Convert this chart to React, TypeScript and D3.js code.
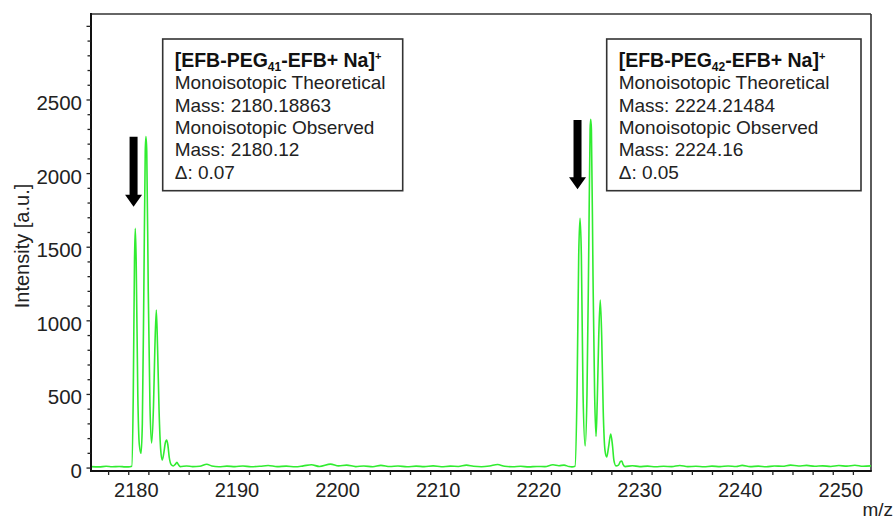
import React from "react";
import * as d3 from "d3";

// ---- data ----
const xDomain: [number, number] = [2175.5, 2253];
const yDomain: [number, number] = [-20, 3084];
const xTickLabels = [2180, 2190, 2200, 2210, 2220, 2230, 2240, 2250];
const xMinorTicks = d3.range(2177.25, 2253, 2);
const yTickLabels = [0, 500, 1000, 1500, 2000, 2500];
const yMinorTicks = d3.range(0, 3001, 100);

const baselineLeft: [number, number][] = [
  [2175.5, 10], [2176.3, 8], [2177.0, 12], [2177.6, 9], [2178.3, 11], [2178.9, 8],
];
const cluster41: [number, number][] = [
  [2179.21, 8], [2179.55, 12], [2179.70, 500], [2179.82, 1400], [2179.90, 1628],
  [2179.99, 1400], [2180.15, 500], [2180.30, 160], [2180.47, 100], [2180.60, 300],
  [2180.75, 1200], [2180.89, 2150], [2180.96, 2251], [2181.04, 2150], [2181.19, 1200],
  [2181.36, 420], [2181.52, 170], [2181.71, 420], [2181.84, 800], [2181.99, 1073],
  [2182.12, 800], [2182.26, 400], [2182.43, 120], [2182.58, 55], [2182.73, 100],
  [2182.88, 170], [2183.01, 190], [2183.13, 160], [2183.28, 70], [2183.48, 22],
  [2183.67, 14], [2183.87, 25], [2184.04, 39], [2184.17, 25], [2184.37, 10],
];
const baselineMid: [number, number][] = [
  [2185.0, 14], [2185.6, 10], [2186.3, 12], [2187.0, 26], [2187.5, 14], [2188.2, 9],
  [2189.0, 13], [2189.8, 10], [2190.6, 14], [2191.4, 9], [2192.3, 12], [2193.1, 17],
  [2194.0, 10], [2194.9, 13], [2195.8, 9], [2196.6, 15], [2197.4, 22], [2198.2, 11],
  [2199.3, 27], [2200.1, 15], [2200.9, 20], [2201.8, 10], [2202.6, 14], [2203.5, 9],
  [2204.3, 18], [2205.2, 11], [2206.0, 14], [2206.9, 9], [2207.8, 13], [2208.6, 10],
  [2209.5, 15], [2210.3, 9], [2211.2, 13], [2212.0, 11], [2212.8, 20], [2213.5, 12],
  [2214.3, 9], [2215.1, 14], [2215.9, 24], [2216.6, 12], [2217.4, 9], [2218.2, 12],
  [2219.0, 8], [2219.8, 11], [2220.6, 10], [2221.4, 22], [2222.0, 16], [2222.5, 20],
  [2223.0, 10],
];
const cluster42: [number, number][] = [
  [2223.29, 8], [2223.59, 12], [2223.79, 500], [2223.96, 1450], [2224.09, 1696],
  [2224.22, 1450], [2224.39, 500], [2224.60, 150], [2224.78, 500], [2224.96, 1500],
  [2225.09, 2300], [2225.15, 2369], [2225.22, 2300], [2225.38, 1300], [2225.54, 500],
  [2225.68, 215], [2225.80, 450], [2225.95, 900], [2226.10, 1141], [2226.24, 900],
  [2226.39, 400], [2226.57, 120], [2226.74, 75], [2226.92, 140], [2227.14, 231],
  [2227.32, 150], [2227.46, 50], [2227.66, 15], [2227.91, 20], [2228.11, 45],
  [2228.23, 48], [2228.36, 25], [2228.56, 10],
];
const baselineRight: [number, number][] = [
  [2229.3, 16], [2230.0, 10], [2230.8, 13], [2231.6, 9], [2232.4, 12], [2233.2, 10],
  [2234.0, 17], [2234.8, 10], [2235.6, 12], [2236.4, 9], [2237.2, 13], [2238.0, 10],
  [2238.8, 14], [2239.6, 11], [2240.2, 18], [2241.0, 10], [2241.8, 13], [2242.6, 9],
  [2243.4, 14], [2244.2, 12], [2245.0, 20], [2245.8, 14], [2246.6, 18], [2247.4, 12],
  [2248.2, 15], [2249.0, 11], [2249.8, 17], [2250.6, 13], [2251.4, 19], [2252.2, 12],
  [2253.0, 15],
];

const arrows = [
  { x: 2179.73, top: 2250, tip: 1775 },
  { x: 2223.84, top: 2364, tip: 1893 },
];

const boxes = [
  { sub: "41", lines: ["Monoisotopic Theoretical", "Mass: 2180.18863", "Monoisotopic Observed", "Mass: 2180.12", "Δ: 0.07"] },
  { sub: "42", lines: ["Monoisotopic Theoretical", "Mass: 2224.21484", "Monoisotopic Observed", "Mass: 2224.16", "Δ: 0.05"] },
];

// ---- layout ----
const W = 895, H = 519;
const L = 91, R = 871, T = 14, B = 471;
const boxLayout = [
  { x: 162.7, y: 39, w: 240, h: 151.7 },
  { x: 606.7, y: 39, w: 254.3, h: 151.7 },
];
const FONT = "'Liberation Sans', Arial, Helvetica, sans-serif";

export default function App() {
  const x = d3.scaleLinear().domain(xDomain).range([L, R]);
  const y = d3.scaleLinear().domain(yDomain).range([B, T]);
  const spectrum = [...baselineLeft, ...cluster41, ...baselineMid, ...cluster42, ...baselineRight];
  const line = d3
    .line<[number, number]>()
    .x((d) => x(d[0]))
    .y((d) => y(d[1]))
    .curve(d3.curveMonotoneX);

  return (
    <svg width={W} height={H} style={{ position: "absolute", left: 0, top: 0, background: "#fff" }} fontFamily={FONT}>
      <rect x={0} y={0} width={W} height={H} fill="#fff" />
      <defs>
        <clipPath id="plotclip">
          <rect x={L} y={T} width={R - L} height={B - T} />
        </clipPath>
      </defs>
      {/* frame top/right */}
      <line x1={L} x2={R} y1={T} y2={T} stroke="#333" strokeWidth={1.6} />
      <line x1={R} x2={R} y1={T} y2={B} stroke="#333" strokeWidth={1.6} />

      {/* spectrum */}
      <path d={line(spectrum) || ""} fill="none" stroke="#30ec30" strokeWidth={1.6} clipPath="url(#plotclip)" />

      {/* axes */}
      <line x1={L} x2={L} y1={T - 1} y2={B + 1} stroke="#111" strokeWidth={2} />
      <line x1={L - 1} x2={R + 0.8} y1={B} y2={B} stroke="#111" strokeWidth={2.2} />

      {yMinorTicks.map((v) => (
        <line key={"ym" + v} x1={L - (v % 500 === 0 ? 4.5 : 3.5)} x2={L} y1={y(v)} y2={y(v)} stroke="#222" strokeWidth={1.3} />
      ))}
      {yTickLabels.map((v) => (
        <text key={"yl" + v} x={82} y={y(v) + 10} textAnchor="end" fontSize={20.5} fill="#222">
          {v}
        </text>
      ))}
      {xMinorTicks.map((v) => (
        <line key={"xm" + v} x1={x(v)} x2={x(v)} y1={B} y2={B + 4} stroke="#222" strokeWidth={1.3} />
      ))}
      {xTickLabels.map((v) => (
        <text key={"xl" + v} x={x(v)} y={497} textAnchor="middle" fontSize={20} fill="#222">
          {v}
        </text>
      ))}
      <text x={893} y={516} textAnchor="end" fontSize={19} fill="#222">m/z</text>
      <text transform={`translate(29,246) rotate(-90)`} textAnchor="middle" fontSize={20} fill="#222">
        Intensity [a.u.]
      </text>

      {/* arrows */}
      {arrows.map((a, i) => {
        const cx = x(a.x);
        const yt = y(a.top);
        const yp = y(a.tip);
        const hl = 12;
        const sw = 4;
        const hw = 8.5;
        const d = `M${cx - sw},${yt} L${cx + sw},${yt} L${cx + sw},${yp - hl} L${cx + hw},${yp - hl} L${cx},${yp} L${cx - hw},${yp - hl} L${cx - sw},${yp - hl} Z`;
        return <path key={"ar" + i} d={d} fill="#000" />;
      })}

      {/* annotation boxes */}
      {boxes.map((b, i) => {
        const bl = boxLayout[i];
        const tx = bl.x + 12;
        const base = bl.y + 28;
        const lh = 22.3;
        return (
          <g key={"box" + i}>
            <rect x={bl.x} y={bl.y} width={bl.w} height={bl.h} fill="#fff" stroke="#333" strokeWidth={1.6} />
            <text x={tx} y={base} fontSize={19.5} fontWeight="bold" fill="#111">
              [EFB-PEG
              <tspan fontSize={12} dy={4}>{b.sub}</tspan>
              <tspan dy={-4}>-EFB+ Na]</tspan>
              <tspan fontSize={11} dy={-7}>+</tspan>
            </text>
            {b.lines.map((t, j) => (
              <text key={j} x={tx} y={base + lh * (j + 1)} fontSize={19} fill="#222">
                {t}
              </text>
            ))}
          </g>
        );
      })}
    </svg>
  );
}
